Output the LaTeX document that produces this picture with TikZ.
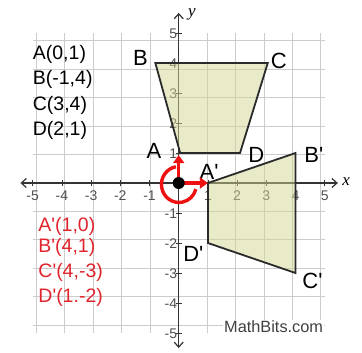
\documentclass[tikz,border=0pt]{standalone}
\usepackage{fontspec}
\setmainfont{Liberation Sans}[Ligatures=TeXOff]
\newfontfamily\serifit{Liberation Serif}
\usetikzlibrary{arrows.meta}
\definecolor{gridc}{HTML}{CCCCCC}
\definecolor{axisc}{HTML}{333333}
\definecolor{tickc}{HTML}{505050}
\definecolor{polyfill}{RGB}{209,213,145}
\definecolor{edgec}{HTML}{2A2A2A}
\definecolor{rotred}{HTML}{EE1111}
\definecolor{txtred}{HTML}{E0242C}
\tikzset{
  gridline/.style={gridc, line width=1pt},
  axisline/.style={axisc, line width=1.2pt, {Straight Barb[length=5pt,width=9pt]}-{Straight Barb[length=5pt,width=9pt]}},
  tickmark/.style={axisc, line width=0.8pt},
  ticklab/.style={tickc, inner sep=0pt, font=\fontsize{14}{16}\selectfont},
  poly/.style={draw=edgec, line width=1.8pt, fill=polyfill, fill opacity=0.5, line join=miter},
  listtxt/.style={anchor=base west, inner sep=0pt, font=\fontsize{19.5}{23}\selectfont},
  redtxt/.style={listtxt, text=txtred},
  cornerlab/.style={inner sep=0pt, font=\fontsize{22}{25}\selectfont},
  rotline/.style={rotred, line width=3.4pt},
  rotarrow/.style={rotline, -{Triangle[length=8pt,width=11pt]}},
}
\begin{document}
\begin{tikzpicture}[x=29.2pt,y=30pt]
\useasboundingbox (-6.12,-5.633) rectangle (6.277,6.1);
% grid
\draw[gridline] (-5,-5) grid (5,5);
% axes
\coordinate (O) at (0,0);
\coordinate (xl) at (-5.42,0);
\coordinate (xr) at (5.45,0);
\coordinate (yb) at (0,-5.5);
\coordinate (yt) at (0,5.67);
\draw[axisline] (xl) -- (xr);
\draw[axisline] (yb) -- (yt);
\node[inner sep=0pt, font=\serifit\itshape\fontsize{17}{19}\selectfont] (xlab) at (5.73,0.06) {x};
\node[inner sep=0pt, font=\serifit\itshape\fontsize{17}{19}\selectfont] (ylab) at (0.45,5.63) {y};
% ticks and tick labels
\foreach \i in {-5,-4,-3,-2,-1,1,2,3,4,5}{
  \draw[tickmark] (\i,-0.1) -- (\i,0.1);
  \draw[tickmark] (-0.1,\i) -- (0.1,\i);
  \node[ticklab] (xt\i) at (\i,-0.43) {\i};
  \node[ticklab, anchor=east] (yt\i) at (-0.05,\i-0.03) {\i};
}
% polygons
\coordinate (A) at (0.05,1);
\coordinate (B) at (-0.8,4);
\coordinate (C) at (3.05,4);
\coordinate (D) at (2.1,1);
\coordinate (A') at (1,0);
\coordinate (B') at (4,1);
\coordinate (C') at (4,-3);
\coordinate (D') at (1,-2);
\draw[poly] (A) -- (B) -- (C) -- (D) -- cycle;
\draw[poly] (A') -- (B') -- (C') -- (D') -- cycle;
% corner labels
\node[cornerlab] (lA) at (-0.85,1.08) {A};
\node[cornerlab] (lB) at (-1.31,4.18) {B};
\node[cornerlab] (lC) at (3.43,4.08) {C};
\node[cornerlab] (lD) at (2.66,0.93) {D};
\node[cornerlab] (lA') at (1.04,0.38) {A'};
\node[cornerlab] (lB') at (4.63,0.93) {B'};
\node[cornerlab] (lC') at (4.58,-3.28) {C'};
\node[cornerlab] (lD') at (0.5,-2.38) {D'};
% coordinate lists
\node[listtxt] (tA) at (-5.0,4.12) {A(0,1)};
\node[listtxt] (tB) at (-5.0,3.27) {B(-1,4)};
\node[listtxt] (tC) at (-5.0,2.43) {C(3,4)};
\node[listtxt] (tD) at (-5.0,1.6) {D(2,1)};
\node[redtxt] (tA') at (-4.81,-1.6) {A'(1,0)};
\node[redtxt] (tB') at (-4.81,-2.32) {B'(4,1)};
\node[redtxt] (tC') at (-4.81,-3.16) {C'(4,-3)};
\node[redtxt] (tD') at (-4.81,-3.99) {D'(1.-2)};
% rotation symbol
\coordinate (up) at (0,0.93);
\coordinate (rt) at (1.0,0);
\draw[rotline] (100:0.55) arc[start angle=100, end angle=345, radius=0.6];
\draw[rotarrow] (O) -- (up);
\draw[rotarrow] (O) -- (rt);
\fill[black] (O) circle[radius=6pt];
% watermark
\node[fill=white, inner xsep=1.5pt, inner ysep=1pt, anchor=base, text=black!75, font=\fontsize{16.3}{18}\selectfont] (mb) at (3.25,-4.99) {MathBits.com};
\end{tikzpicture}
\end{document}
